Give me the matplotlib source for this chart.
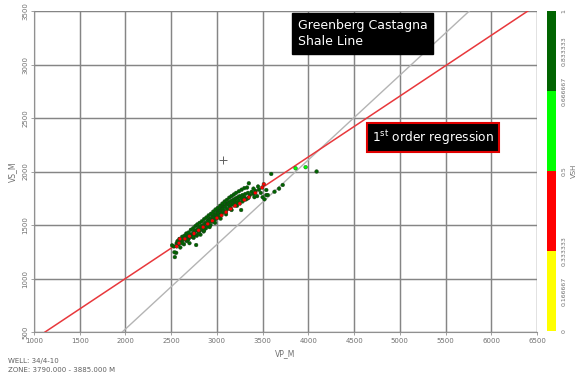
import matplotlib
matplotlib.use('Agg')
import matplotlib.pyplot as plt
import numpy as np
from matplotlib.colors import ListedColormap, BoundaryNorm
from matplotlib.cm import ScalarMappable

# crossplot samples, grouped by VSH class
shale_vp = [2510, 2530, 2540, 2555, 2560, 2580, 2600, 2610, 2630, 2640, 2655, 2670, 2680, 2690,
            2700, 2710, 2720, 2735, 2745, 2750, 2760, 2770, 2780, 2790, 2800, 2805, 2815, 2820,
            2830, 2840, 2850, 2855, 2865, 2870, 2880, 2890, 2900, 2905, 2915, 2920, 2930, 2940,
            2950, 2955, 2965, 2970, 2980, 2990, 3000, 3005, 3015, 3020, 3030, 3040, 3050, 3055,
            3065, 3070, 3080, 3090, 3100, 3110, 3120, 3130, 3140, 3150, 3160, 3170, 3180, 3190,
            3200, 3210, 3220, 3230, 3240, 3250, 3265, 3270, 3280, 3300, 3310, 3320, 3340, 3349,
            3360, 3380, 3400, 3420, 3440, 3460, 3480, 3500, 3520, 3540, 3557, 3594, 3630, 3680,
            3720, 4090,
            2570, 2590, 2620, 2645, 2665, 2690, 2715, 2740, 2765, 2785, 2810, 2835, 2860, 2885,
            2910, 2935, 2960, 2985, 3010, 3035, 3060, 3085, 3110, 3135, 3160, 3185, 3210, 3240,
            3270, 3300, 3330, 3400, 3450,
            2620, 2680, 2740, 2800, 2860, 2920, 2980, 3040, 3100, 3160, 3220, 3280, 3340, 3410,
            2773, 2536, 3540]
shale_vs = [1310, 1300, 1200, 1240, 1330, 1320, 1290, 1345, 1360, 1320, 1380, 1350, 1400, 1370,
            1330, 1410, 1390, 1420, 1380, 1440, 1410, 1450, 1400, 1460, 1430, 1480, 1450, 1410,
            1490, 1460, 1500, 1440, 1480, 1520, 1470, 1510, 1540, 1490, 1530, 1560, 1500, 1550,
            1580, 1530, 1570, 1600, 1550, 1590, 1620, 1570, 1610, 1640, 1590, 1630, 1660, 1610,
            1650, 1680, 1630, 1670, 1700, 1650, 1690, 1710, 1670, 1720, 1690, 1730, 1700, 1740,
            1720, 1750, 1710, 1760, 1730, 1770, 1640, 1750, 1780, 1760, 1790, 1740, 1800, 1890,
            1780, 1810, 1790, 1820, 1770, 1830, 1800, 1760, 1740, 1780, 1780, 1977, 1811, 1840,
            1874, 2000,
            1350, 1370, 1390, 1400, 1420, 1430, 1455, 1470, 1490, 1505, 1520, 1535, 1555, 1570,
            1590, 1605, 1625, 1645, 1660, 1680, 1700, 1720, 1735, 1755, 1770, 1785, 1800, 1815,
            1830, 1845, 1850, 1840, 1860,
            1330, 1360, 1390, 1420, 1450, 1480, 1520, 1560, 1600, 1640, 1680, 1720, 1750, 1760,
            1313, 1245, 1827]
silty_vp = [3860, 3970]
silty_vs = [2030, 2040]
sandy_vp = [2560, 2585, 2595, 2650, 2700, 2750, 2800, 2850, 2900, 2950, 3000, 3050, 3100, 3150,
            3200, 3250, 3300, 3350, 3420, 3495, 3513]
sandy_vs = [1300, 1330, 1370, 1370, 1395, 1420, 1450, 1480, 1510, 1540, 1565, 1590, 1620, 1650,
            1680, 1700, 1735, 1760, 1800, 1850, 1882]

# reference lines
regression_vp = [1121, 6400]
regression_vs = [500, 3500]
castagna_vp = [1965, 5760]
castagna_vs = [500, 3500]
marker_vp = [3064]
marker_vs = [2107]

x_ticks = np.arange(1000, 6501, 500)
y_ticks = np.arange(500, 3501, 500)
vsh_bounds = [0, 1 / 3, 0.5, 2 / 3, 1]
vsh_colors = ['#ffff00', '#ff0000', '#00ff00', '#006400']
vsh_ticks = [0, 1 / 6, 1 / 3, 0.5, 2 / 3, 5 / 6, 1]
vsh_labels = ['0', '0.166667', '0.333333', '0.5', '0.666667', '0.833333', '1']

vp = shale_vp + silty_vp + sandy_vp
vs = shale_vs + silty_vs + sandy_vs
vsh = [0.9] * len(shale_vp) + [0.55] * len(silty_vp) + [0.45] * len(sandy_vp)

fig = plt.figure(figsize=(5.8, 3.77), dpi=100)
ax = fig.add_axes([34 / 580, 1 - 332 / 377, 503 / 580, 321 / 377])

cmap = ListedColormap(vsh_colors)
norm = BoundaryNorm(vsh_bounds, cmap.N)

ax.grid(True, color='#858585', linewidth=1.05, zorder=0)
ax.plot(castagna_vp, castagna_vs, color='#b4b4b4', linewidth=1.0, zorder=2)
ax.plot(regression_vp, regression_vs, color='#e8383c', linewidth=1.1, zorder=2)
ax.scatter(vp, vs, c=vsh, cmap=cmap, norm=norm, s=7, edgecolors='#1a3a1a',
           linewidths=0.3, zorder=3)
ax.plot(marker_vp, marker_vs, '+', color='#606060', markersize=6, markeredgewidth=0.7)

ax.set_xlim(1000, 6500)
ax.set_ylim(500, 3500)
ax.set_xticks(x_ticks)
ax.set_yticks(y_ticks)
ax.tick_params(axis='both', labelsize=5, labelcolor='#707070', color='#909090',
               length=2, width=0.6, pad=2)
for lbl in ax.get_yticklabels():
    lbl.set_rotation(90)
    lbl.set_va('center')
for side in ['top', 'right']:
    ax.spines[side].set_visible(False)
for side in ['left', 'bottom']:
    ax.spines[side].set_color('#909090')
    ax.spines[side].set_linewidth(0.8)

ax.set_xlabel('VP_M', fontsize=5.5, color='#707070', labelpad=4)
ax.set_ylabel('VS_M', fontsize=5.5, color='#707070', labelpad=4)

# annotation boxes
ax.text(0.524, 0.975, 'Greenberg Castagna\nShale Line', transform=ax.transAxes,
        fontsize=9, color='white', ha='left', va='top', linespacing=1.3,
        bbox=dict(boxstyle='square,pad=0.45', facecolor='black', edgecolor='black'))
ax.text(0.671, 0.606, r'1$^{\mathrm{st}}$ order regression', transform=ax.transAxes,
        fontsize=8.8, color='white', ha='left', va='center',
        bbox=dict(boxstyle='square,pad=0.4', facecolor='black', edgecolor='#e00000',
                  linewidth=1.5))

fig.text(8 / 580, 1 - 361 / 377, 'WELL: 34/4-10', fontsize=5, color='#606060', va='center')
fig.text(8 / 580, 1 - 370 / 377, 'ZONE: 3790.000 - 3885.000 M', fontsize=5,
         color='#606060', va='center')

# VSH colour bar
cax = fig.add_axes([547 / 580, 1 - 331 / 377, 9 / 580, 320 / 377])
cb = fig.colorbar(ScalarMappable(norm=norm, cmap=cmap), cax=cax, ticks=vsh_ticks)
cb.outline.set_visible(False)
cb.ax.set_yticklabels(vsh_labels, rotation=90, va='center')
cb.ax.tick_params(labelsize=4.5, labelcolor='#707070', length=0, pad=4)
cb.set_label('VSH', fontsize=5, color='#707070', rotation=90, labelpad=3)

fig.savefig('out.png', dpi=100)
